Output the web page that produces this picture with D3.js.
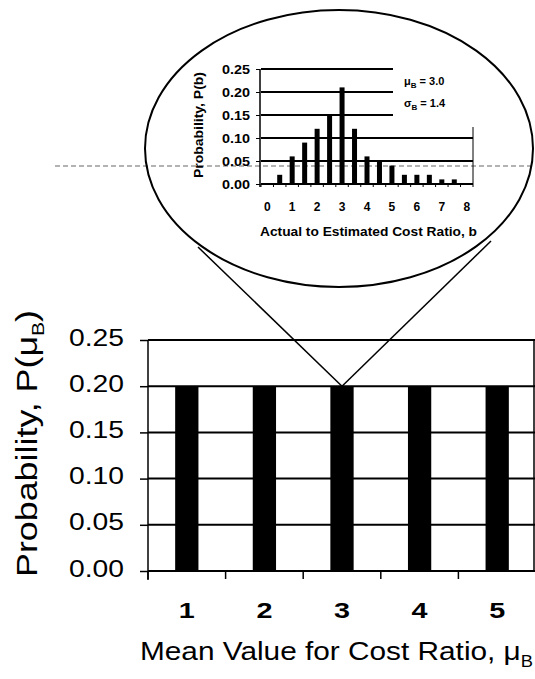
<!DOCTYPE html>
<html><head><meta charset="utf-8">
<script src="https://cdn.jsdelivr.net/npm/d3@7"></script>
<style>html,body{margin:0;padding:0;background:#fff;}svg{display:block;}</style>
</head><body>
<svg id="c" width="535" height="679"></svg>
<script>
// ---- main chart data ----
const mainCategories = [1, 2, 3, 4, 5];
const mainValues = [0.20, 0.20, 0.20, 0.20, 0.20];
const mainYTicks = [0.00, 0.05, 0.10, 0.15, 0.20, 0.25];
const mainXTitle = "Mean Value for Cost Ratio, ";
const mainYTitle = "Probability, P(";
// ---- inset chart data ----
const insetB = [0.5, 1.0, 1.5, 2.0, 2.5, 3.0, 3.5, 4.0, 4.5, 5.0, 5.5, 6.0, 6.5, 7.0, 7.5];
const insetP = [0.02, 0.06, 0.09, 0.12, 0.15, 0.21, 0.12, 0.06, 0.05, 0.04, 0.02, 0.02, 0.02, 0.01, 0.01];
const insetXTicks = [0, 1, 2, 3, 4, 5, 6, 7, 8];
const insetYTicks = [0.00, 0.05, 0.10, 0.15, 0.20, 0.25];
const insetLegend = [["\u03bc", "B", " = 3.0"], ["\u03c3", "B", " = 1.4"]];
const highlightCategory = 3;

const svg = d3.select("#c");
const FONT = "'Liberation Sans', Arial, sans-serif";

// scan artifact line
svg.append("line").attr("x1", 55).attr("x2", 535).attr("y1", 166).attr("y2", 166)
  .attr("stroke", "#666").attr("stroke-width", 1).attr("stroke-dasharray", "5,3");

// ================= MAIN CHART =================
const x = d3.scaleBand().domain(mainCategories).range([148, 536]).paddingInner(0.7).paddingOuter(0.35);
const y = d3.scaleLinear().domain([0, 0.25]).range([571, 340]);
const main = svg.append("g");

// gridlines
main.selectAll("line.grid").data(mainYTicks).join("line")
  .attr("x1", 148).attr("x2", 535).attr("y1", d => y(d)).attr("y2", d => y(d))
  .attr("stroke", "#000").attr("stroke-width", 2);
// right border
main.append("line").attr("x1", 534).attr("x2", 534).attr("y1", y(0.25)).attr("y2", y(0))
  .attr("stroke", "#000").attr("stroke-width", 1.5);
// bars
main.selectAll("rect.bar").data(mainCategories).join("rect")
  .attr("x", d => x(d)).attr("width", x.bandwidth())
  .attr("y", (d, i) => y(mainValues[i])).attr("height", (d, i) => y(0) - y(mainValues[i]))
  .attr("fill", "#000");
// y axis
const yAx = main.append("g").attr("transform", "translate(148,0)")
  .call(d3.axisLeft(y).tickValues(mainYTicks).tickSize(8).tickPadding(16).tickFormat(d3.format(".2f")));
yAx.select(".domain").attr("stroke-width", 1.5).attr("d", `M0,${y(0.25)}V${y(0) + 9}`);
yAx.selectAll(".tick line").attr("stroke-width", 1.5);
yAx.selectAll("text").attr("font-family", FONT).attr("font-size", 24).attr("fill", "#000")
  .attr("dy", null).attr("y", 5).attr("textLength", 55).attr("lengthAdjust", "spacingAndGlyphs");
// x axis ticks at band boundaries
const bounds = mainCategories.map(d => x(d) - x.step() * x.paddingInner() / 2).concat([x.range()[1]]);
main.selectAll("line.xt").data(bounds.slice(0, 5)).join("line")
  .attr("x1", d => d).attr("x2", d => d).attr("y1", y(0)).attr("y2", y(0) + 8)
  .attr("stroke", "#000").attr("stroke-width", 1.5);
main.selectAll("text.xl").data(mainCategories).join("text")
  .attr("x", d => x(d) + x.bandwidth() / 2).attr("y", 618)
  .attr("text-anchor", "middle").attr("font-family", FONT).attr("font-weight", "bold")
  .attr("font-size", 22).attr("textLength", 16).attr("lengthAdjust", "spacingAndGlyphs")
  .text(d => d);
// x title
const xt = main.append("text").attr("x", 140).attr("y", 660).attr("font-family", FONT)
  .attr("font-size", 26).attr("textLength", 393).attr("lengthAdjust", "spacingAndGlyphs");
xt.append("tspan").text(mainXTitle + "\u03bc");
xt.append("tspan").attr("font-size", 16).attr("dy", 7).text("B");
// y title
const yt = main.append("text").attr("transform", "translate(37,443.5) rotate(-90)")
  .attr("text-anchor", "middle").attr("font-family", FONT).attr("font-size", 29)
  .attr("textLength", 267).attr("lengthAdjust", "spacingAndGlyphs");
yt.append("tspan").text(mainYTitle + "\u03bc");
yt.append("tspan").attr("font-size", 17).attr("dy", 7).text("B");
yt.append("tspan").attr("dy", -7).text(")");

// ================= MAGNIFIER =================
const apexX = x(highlightCategory) + x.bandwidth() / 2, apexY = y(mainValues[mainCategories.indexOf(highlightCategory)]);
svg.append("line").attr("x1", 198).attr("y1", 247).attr("x2", apexX).attr("y2", apexY)
  .attr("stroke", "#000").attr("stroke-width", 1.5);
svg.append("line").attr("x1", 491).attr("y1", 241).attr("x2", apexX).attr("y2", apexY)
  .attr("stroke", "#000").attr("stroke-width", 1.5);
svg.append("ellipse").attr("cx", 339).attr("cy", 148.5).attr("rx", 194).attr("ry", 138.5)
  .attr("fill", "none").attr("stroke", "#000").attr("stroke-width", 2);

// ================= INSET CHART =================
const xi = d3.scaleLinear().domain([-0.25, 8.25]).range([261, 473]);
const yi = d3.scaleLinear().domain([0, 0.25]).range([184, 69]);
const inset = svg.append("g");
inset.selectAll("line.g").data(insetYTicks).join("line")
  .attr("x1", 261).attr("x2", 473).attr("y1", d => yi(d)).attr("y2", d => yi(d))
  .attr("stroke", "#000").attr("stroke-width", 2);
inset.append("line").attr("x1", 473).attr("x2", 473).attr("y1", yi(0.25)).attr("y2", yi(0))
  .attr("stroke", "#000").attr("stroke-width", 1);
inset.selectAll("rect.b").data(insetB).join("rect")
  .attr("x", d => xi(d) - 2.5).attr("width", 5)
  .attr("y", (d, i) => yi(insetP[i])).attr("height", (d, i) => yi(0) - yi(insetP[i]))
  .attr("fill", "#000");
// y axis
const yiAx = inset.append("g").attr("transform", "translate(260,0)")
  .call(d3.axisLeft(yi).tickValues(insetYTicks).tickSize(4).tickPadding(6).tickFormat(d3.format(".2f")));
yiAx.select(".domain").attr("stroke-width", 1.5).attr("d", `M0,${yi(0.25)}V${yi(0) + 3}`);
yiAx.selectAll("text").attr("font-family", FONT).attr("font-weight", "bold").attr("font-size", 12)
  .attr("fill", "#000").attr("dy", null).attr("y", 4).attr("textLength", 28).attr("lengthAdjust", "spacingAndGlyphs");
// x ticks between bins
inset.selectAll("line.xt").data(d3.range(18).map(k => -0.25 + 0.5 * k)).join("line")
  .attr("x1", d => xi(d)).attr("x2", d => xi(d)).attr("y1", yi(0)).attr("y2", yi(0) + 3)
  .attr("stroke", "#000").attr("stroke-width", 1);
inset.selectAll("text.xl").data(insetXTicks).join("text")
  .attr("x", d => xi(d)).attr("y", 211).attr("text-anchor", "middle")
  .attr("font-family", FONT).attr("font-weight", "bold").attr("font-size", 12).text(d => d);
inset.append("text").attr("x", 368.5).attr("y", 236).attr("text-anchor", "middle")
  .attr("font-family", FONT).attr("font-weight", "bold").attr("font-size", 12)
  .attr("textLength", 217).attr("lengthAdjust", "spacingAndGlyphs")
  .text("Actual to Estimated Cost Ratio, b");
inset.append("text").attr("transform", "translate(203,125) rotate(-90)").attr("text-anchor", "middle")
  .attr("font-family", FONT).attr("font-weight", "bold").attr("font-size", 12)
  .attr("textLength", 106).attr("lengthAdjust", "spacingAndGlyphs")
  .text("Probability, P(b)");
// legend box
inset.append("rect").attr("x", 393).attr("y", 62).attr("width", 84).attr("height", 65).attr("fill", "#fff");
insetLegend.forEach((l, i) => {
  const t = inset.append("text").attr("x", 404).attr("y", 85 + i * 22)
    .attr("font-family", FONT).attr("font-weight", "bold").attr("font-size", 11);
  t.append("tspan").text(l[0]);
  t.append("tspan").attr("font-size", 8).attr("dy", 3).text(l[1]);
  t.append("tspan").attr("dy", -3).text(l[2]);
});
</script>
</body></html>
